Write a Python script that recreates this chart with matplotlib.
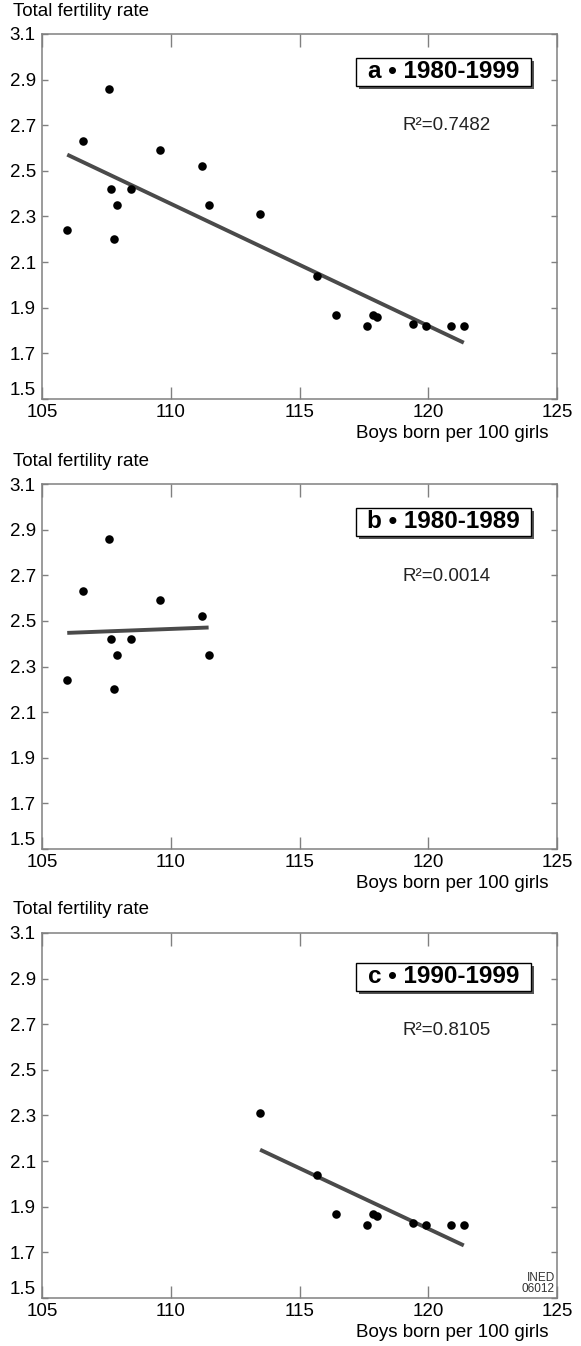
#!/usr/bin/env python3
"""Total fertility rate vs. sex ratio at birth, three stacked panels."""

import matplotlib
matplotlib.use("Agg")
import matplotlib.pyplot as plt
import numpy as np
from matplotlib.patches import Rectangle

plt.rcParams.update({
    "font.family": ["Liberation Sans", "DejaVu Sans"],
    "font.size": 13.5,
})

# 1980-1989 observations
boys_80s = [105.98, 106.6, 107.59, 107.69, 107.9, 107.78, 108.47, 109.57, 111.2, 111.47]
tfr_80s = [2.24, 2.63, 2.86, 2.42, 2.35, 2.20, 2.42, 2.59, 2.52, 2.35]

# 1990-1999 observations
boys_90s = [113.47, 115.69, 116.43, 117.61, 117.87, 118.0, 119.41, 119.9, 120.89, 121.38]
tfr_90s = [2.31, 2.04, 1.87, 1.82, 1.87, 1.86, 1.83, 1.82, 1.82, 1.82]

panel_labels = ["a \u2022 1980-1999", "b \u2022 1980-1989", "c \u2022 1990-1999"]
r_squared = ["0.7482", "0.0014", "0.8105"]

x_ticks = [105, 110, 115, 120, 125]
y_ticks = [1.5, 1.7, 1.9, 2.1, 2.3, 2.5, 2.7, 2.9, 3.1]

GREY = "#808080"


def draw_panel(ax, x, y, label, r2, shift=0.0, note=None):
    x = np.asarray(x)
    y = np.asarray(y)
    slope, icpt = np.polyfit(x, y, 1)
    xs = np.array([x.min(), x.max()])
    ax.plot(xs, slope * xs + icpt, color="#4a4a4a", lw=2.8,
            solid_capstyle="butt", zorder=2)
    ax.scatter(x, y, s=38, color="black", linewidths=0, zorder=3)

    ax.set_xlim(105, 125)
    ax.set_ylim(1.5, 3.1)
    ax.set_xticks(x_ticks)
    ax.set_yticks(y_ticks)
    ax.set_yticklabels([f"{v:.1f}" for v in y_ticks])
    ax.get_yticklabels()[0].set_verticalalignment("bottom")
    ax.tick_params(direction="in", top=True, right=True, color=GREY, width=1.0)
    ax.tick_params(axis="x", length=9, pad=3.5)
    ax.tick_params(axis="y", length=4.5, pad=4.5)
    for sp in ax.spines.values():
        sp.set_color(GREY)
        sp.set_linewidth(1.1)

    # boxed panel title with a drop shadow
    bx, by, bw, bh = 0.610, 0.858 + shift, 0.340, 0.076
    ax.add_patch(Rectangle((bx + 0.006, by - 0.008), bw, bh, transform=ax.transAxes,
                           facecolor="#555555", edgecolor="none", zorder=4))
    ax.add_patch(Rectangle((bx, by), bw, bh, transform=ax.transAxes,
                           facecolor="white", edgecolor="black", lw=1.0, zorder=5))
    ax.text(bx + bw / 2, by + bh / 2, label, transform=ax.transAxes,
            ha="center", va="center", fontsize=17.5, fontweight="bold", zorder=6)
    ax.text(0.785, 0.748 + shift, f"R\u00b2={r2}", transform=ax.transAxes,
            ha="center", va="center", fontsize=13.5, color="#222222")

    ax.annotate("Total fertility rate", xy=(0, 1), xycoords="axes fraction",
                xytext=(-21, 16.5), textcoords="offset points", ha="left", va="center")
    ax.annotate("Boys born per 100 girls", xy=(1, 0), xycoords="axes fraction",
                xytext=(-5.8, -25), textcoords="offset points", ha="right", va="center")

    if note:
        ax.text(0.996, 0.008, note, transform=ax.transAxes, ha="right", va="bottom",
                fontsize=8.5, linespacing=0.85, color="#333333")


def main():
    fig = plt.figure(figsize=(5.81, 13.46), dpi=100)
    left, width, height = 0.0723, 0.8864, 0.2712
    ax_a = fig.add_axes([left, 0.7036, width, height])
    ax_b = fig.add_axes([left, 0.3692, width, height])
    ax_c = fig.add_axes([left, 0.0357, width, height])

    draw_panel(ax_a, boys_80s + boys_90s, tfr_80s + tfr_90s, panel_labels[0], r_squared[0])
    draw_panel(ax_b, boys_80s, tfr_80s, panel_labels[1], r_squared[1])
    draw_panel(ax_c, boys_90s, tfr_90s, panel_labels[2], r_squared[2],
               shift=-0.016, note="INED\n06012")

    fig.savefig("out.png", dpi=100)
    plt.close(fig)


if __name__ == "__main__":
    main()
